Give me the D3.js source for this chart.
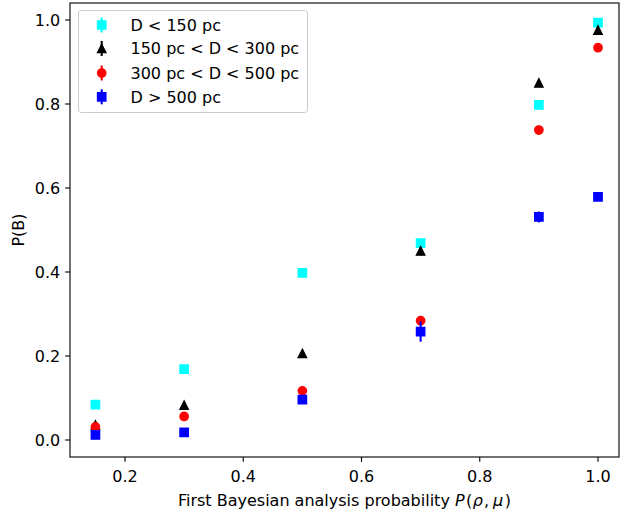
<!DOCTYPE html>
<html>
<head>
<meta charset="utf-8">
<script src="https://cdn.jsdelivr.net/npm/d3@7"></script>
<style>
  html, body { margin: 0; padding: 0; background: #fff; }
  svg { display: block; }
  text { font-family: "DejaVu Sans", sans-serif; fill: #000; }
</style>
</head>
<body>
<svg id="chart" width="620" height="510"></svg>
<script>
// ---- data ----
const xValues = [0.15, 0.3, 0.5, 0.7, 0.9, 1.0];
const seriesNames = ["D < 150 pc", "150 pc < D < 300 pc", "300 pc < D < 500 pc", "D > 500 pc"];
const seriesColors = ["#00ffff", "#000000", "#ff0000", "#0000ff"];
const seriesMarkers = ["square", "triangle", "circle", "square"];
const near150 = [0.084, 0.169, 0.398, 0.469, 0.798, 0.994];
const mid150to300 = [0.036, 0.083, 0.206, 0.450, 0.850, 0.976];
const mid300to500 = [0.031, 0.056, 0.117, 0.284, 0.738, 0.934];
const far500 = [0.012, 0.018, 0.096, 0.258, 0.531, 0.579];
const err150 = [0.008, 0.008, 0.008, 0.008, 0.008, 0.005];
const err300 = [0.006, 0.008, 0.008, 0.010, 0.008, 0.006];
const err500 = [0.008, 0.008, 0.008, 0.010, 0.008, 0.006];
const errFar = [0.006, 0.008, 0.010, 0.024, 0.013, 0.010];
const xTicks = [0.2, 0.4, 0.6, 0.8, 1.0];
const yTicks = [0.0, 0.2, 0.4, 0.6, 0.8, 1.0];

const seriesValues = [near150, mid150to300, mid300to500, far500];
const seriesErrors = [err150, err300, err500, errFar];

// ---- layout ----
const svg = d3.select("#chart");
const frame = { left: 70, right: 619, top: 3, bottom: 457 };
const x = d3.scaleLinear().domain([0.2, 1.0]).range([125, 598]);
const y = d3.scaleLinear().domain([0.0, 1.0]).range([440, 20]);
const fontSize = 16;
const ms = 8.33;     // marker size px
const mew = 1.39;    // marker edge width
const tickLen = 4.86;

function markerPath(type, s) {
  const h = s / 2;
  if (type === "square") return `M${-h},${-h}H${h}V${h}H${-h}Z`;
  if (type === "triangle") return `M0,${-h}L${-h},${h}L${h},${h}Z`;
  return `M${h},0A${h},${h} 0 1,1 ${-h},0A${h},${h} 0 1,1 ${h},0Z`;
}

// ---- data marks ----
const plot = svg.append("g");
seriesValues.forEach((vals, si) => {
  const g = plot.append("g");
  const col = seriesColors[si];
  vals.forEach((v, i) => {
    const e = seriesErrors[si][i];
    g.append("line")
      .attr("x1", x(xValues[i])).attr("x2", x(xValues[i]))
      .attr("y1", y(v - e)).attr("y2", y(v + e))
      .attr("stroke", col).attr("stroke-width", 2.08);
  });
  vals.forEach((v, i) => {
    g.append("path")
      .attr("d", markerPath(seriesMarkers[si], ms))
      .attr("transform", `translate(${x(xValues[i])},${y(v)})`)
      .attr("fill", col).attr("stroke", col)
      .attr("stroke-width", mew).attr("stroke-linejoin", "miter");
  });
});

// ---- frame ----
svg.append("rect")
  .attr("x", frame.left).attr("y", frame.top)
  .attr("width", frame.right - frame.left).attr("height", frame.bottom - frame.top)
  .attr("fill", "none").attr("stroke", "#000").attr("stroke-width", 1.11);

// ---- axes ----
const xAxis = svg.append("g");
xTicks.forEach(t => {
  xAxis.append("line")
    .attr("x1", x(t)).attr("x2", x(t))
    .attr("y1", frame.bottom).attr("y2", frame.bottom + tickLen)
    .attr("stroke", "#000").attr("stroke-width", 1.11);
  xAxis.append("text")
    .attr("x", x(t)).attr("y", 482)
    .attr("text-anchor", "middle").attr("font-size", fontSize)
    .text(d3.format(".1f")(t));
});
const yAxis = svg.append("g");
yTicks.forEach(t => {
  yAxis.append("line")
    .attr("x1", frame.left - tickLen).attr("x2", frame.left)
    .attr("y1", y(t)).attr("y2", y(t))
    .attr("stroke", "#000").attr("stroke-width", 1.11);
  yAxis.append("text")
    .attr("x", frame.left - tickLen - 4.86).attr("y", y(t))
    .attr("dy", "0.36em")
    .attr("text-anchor", "end").attr("font-size", fontSize)
    .text(d3.format(".1f")(t));
});

// axis labels
const xl = svg.append("text")
  .attr("x", (frame.left + frame.right) / 2).attr("y", 506)
  .attr("text-anchor", "middle").attr("font-size", fontSize);
xl.append("tspan").text("First Bayesian analysis probability ");
xl.append("tspan").attr("font-style", "italic").text("P");
xl.append("tspan").attr("dx", 1.5).text("(");
xl.append("tspan").attr("dx", 0.5).attr("font-style", "italic").text("ρ");
xl.append("tspan").attr("dx", 1).text(",");
xl.append("tspan").attr("dx", 4).attr("font-style", "italic").text("μ");
xl.append("tspan").attr("dx", 1.5).text(")");

svg.append("text")
  .attr("transform", `translate(24,${(frame.top + frame.bottom) / 2}) rotate(-90)`)
  .attr("text-anchor", "middle").attr("font-size", fontSize)
  .text("P(B)");

// ---- legend ----
const lg = svg.append("g");
lg.append("rect")
  .attr("x", 78.5).attr("y", 10.5).attr("width", 229).attr("height", 102)
  .attr("rx", 2.8).attr("ry", 2.8)
  .attr("fill", "#fff").attr("fill-opacity", 0.8)
  .attr("stroke", "#cccccc").attr("stroke-width", 1);
const rowY = [25, 48.5, 73, 96.8];
seriesNames.forEach((name, si) => {
  const col = seriesColors[si];
  const cy = rowY[si];
  lg.append("line")
    .attr("x1", 101.7).attr("x2", 101.7)
    .attr("y1", cy - 7.5).attr("y2", cy + 7.5)
    .attr("stroke", col).attr("stroke-width", 2.08);
  lg.append("path")
    .attr("d", markerPath(seriesMarkers[si], ms))
    .attr("transform", `translate(101.7,${cy})`)
    .attr("fill", col).attr("stroke", col).attr("stroke-width", mew);
  lg.append("text")
    .attr("x", 130.5).attr("y", cy).attr("dy", "0.36em")
    .attr("font-size", fontSize)
    .text(name);
});
</script>
</body>
</html>
